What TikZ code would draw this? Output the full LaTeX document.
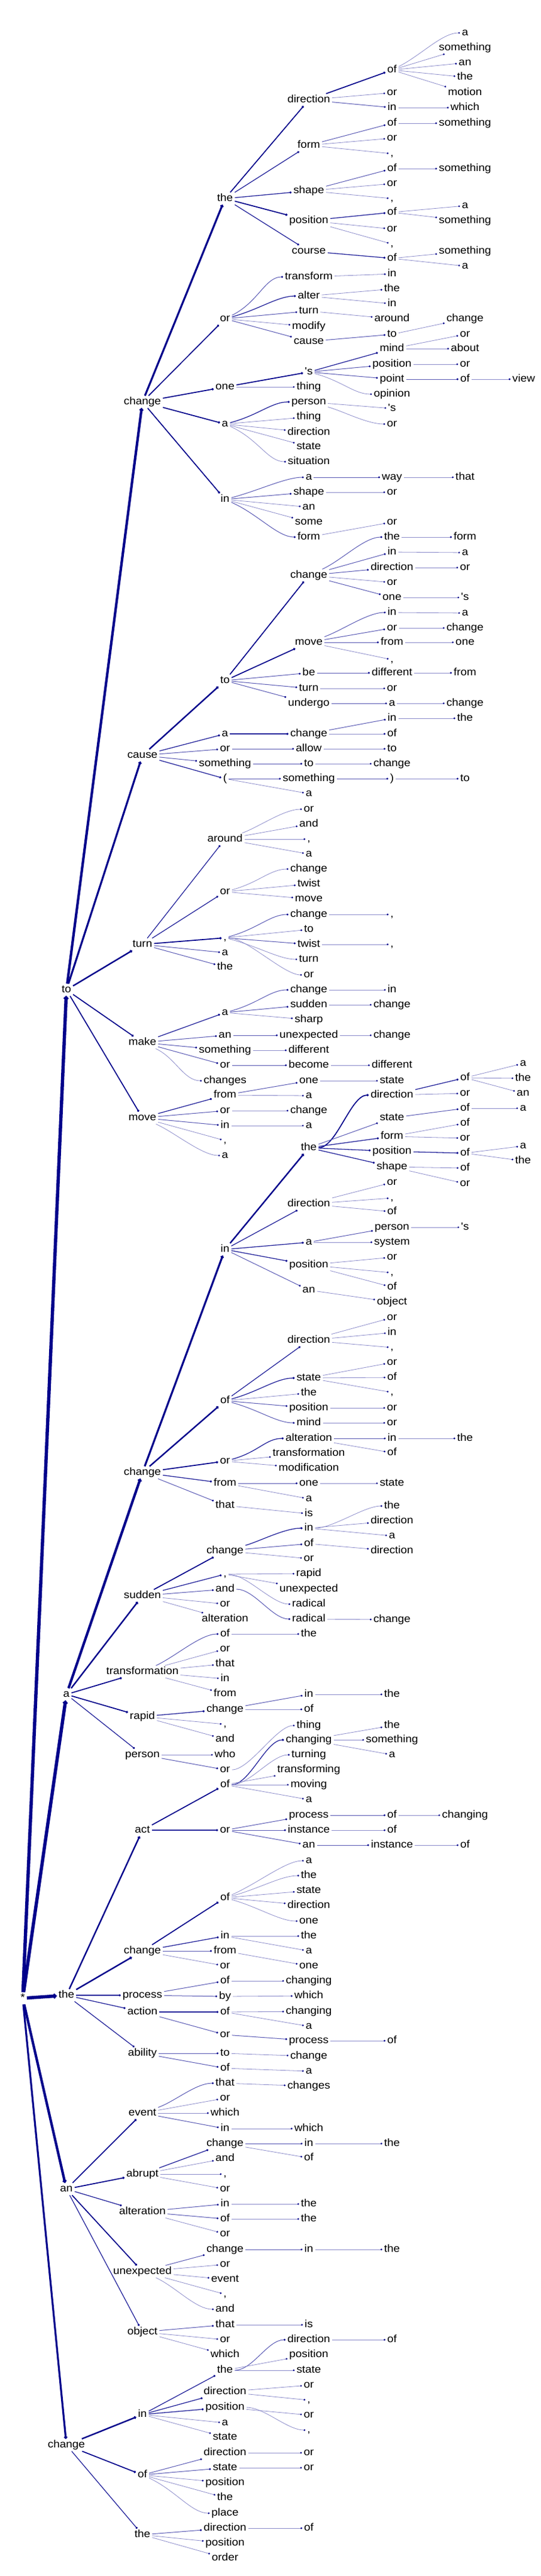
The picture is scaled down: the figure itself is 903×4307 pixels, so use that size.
\documentclass[tikz,border=0pt]{standalone}
\usepackage{fontspec}
\newfontfamily\wf{Liberation Sans}[FakeStretch=1.08]
\usetikzlibrary{arrows.meta,calc}
\definecolor{edgec}{RGB}{0,0,139}
\newcommand\TK[6]{\node[lbl] (#3) at (#4pt,-#5pt) {#6}; \draw[#1] (#2) -- (#3);}
\newcommand\TC[6]{\node[lbl] (#3) at (#4pt,-#5pt) {#6}; \draw[#1] (#2) to[curv] (#3);}
\newcommand\TS[6]{\node[lbl] (#3) at (#4pt,-#5pt) {#6}; \draw[#1] (#2) to[scurv] (#3);}
\tikzset{
 lbl/.style={font=\wf\fontsize{17.5pt}{20pt}\selectfont, text=black, inner xsep=3pt, inner ysep=2pt, text height=12.6pt, text depth=3.7pt},
 tipd/.style={-{Circle[length=2pt 1,color=edgec]}},
 wA/.style={tipd, draw=edgec!45, line width=0.8pt},
 wB/.style={tipd, draw=edgec!65, line width=1pt},
 wC/.style={tipd, draw=edgec!85, line width=1.3pt},
 wD/.style={tipd, draw=edgec, line width=1.7pt},
 wE/.style={tipd, draw=edgec, line width=2.4pt},
 wF/.style={tipd, draw=edgec, line width=3.2pt},
 wG/.style={tipd, draw=edgec, line width=4.2pt},
 wH/.style={tipd, draw=edgec, line width=5.5pt},
 curv/.style={to path={.. controls ($(\tikztostart)!0.4!(\tikztotarget)$) and ($(\tikztotarget.west)+(-30pt,0)$) .. (\tikztotarget.west)}},
 scurv/.style={to path={.. controls ($(\tikztostart.east)+(30pt,0)$) and ($(\tikztotarget.west)+(-30pt,0)$) .. (\tikztotarget.west)}},
}
\begin{document}
\begin{tikzpicture}
\fill[white] (0,0) rectangle (903pt,-4307pt);
\useasboundingbox (0,0) rectangle (903pt,-4307pt);
\node[lbl] (r) at (38pt,-3341pt) {*};
\TK{wH}{r}{T}{111}{1655}{to}
\TK{wH}{r}{A}{111}{2833}{a}
\TK{wH}{r}{H}{111}{3336}{the}
\TK{wG}{r}{N}{111}{3660}{an}
\TK{wF}{r}{G}{111}{4088}{change}
% ---- to / change
\TK{wG}{T}{t1}{238}{672}{change}
\TK{wF}{t1}{t1a}{376}{332}{the}
\TK{wD}{t1a}{t1aa}{516}{167}{direction}
\TK{wD}{t1aa}{t1aaa}{655}{117}{of}
\TC{wA}{t1aaa}{x1}{777}{55}{a}
\TK{wA}{t1aaa}{x2}{777}{80}{something}
\TK{wA}{t1aaa}{x3}{777}{105}{an}
\TK{wA}{t1aaa}{x4}{777}{129}{the}
\TK{wA}{t1aaa}{x5}{777}{155}{motion}
\TK{wA}{t1aa}{x6}{655}{155}{or}
\TK{wB}{t1aa}{x7}{655}{180}{in}
\TK{wA}{x7}{x8}{777}{180}{which}
\TK{wC}{t1a}{t1ab}{516}{243}{form}
\TK{wB}{t1ab}{x9}{655}{206}{of}
\TK{wA}{x9}{x10}{777}{206}{something}
\TK{wA}{t1ab}{x11}{655}{231}{or}
\TK{wA}{t1ab}{x12}{655}{257}{,}
\TK{wC}{t1a}{t1ac}{516}{319}{shape}
\TK{wB}{t1ac}{x13}{655}{282}{of}
\TK{wA}{x13}{x14}{777}{282}{something}
\TK{wA}{t1ac}{x15}{655}{307}{or}
\TK{wA}{t1ac}{x16}{655}{332}{,}
\TK{wD}{t1a}{t1ad}{516}{369}{position}
\TK{wC}{t1ad}{x17}{655}{355}{of}
\TK{wA}{x17}{x18}{777}{344}{a}
\TK{wA}{x17}{x19}{777}{369}{something}
\TK{wA}{t1ad}{x20}{655}{383}{or}
\TK{wA}{t1ad}{x21}{655}{408}{,}
\TK{wC}{t1a}{t1ae}{516}{420}{course}
\TK{wC}{t1ae}{x22}{655}{432}{of}
\TK{wA}{x22}{x23}{777}{420}{something}
\TK{wA}{x22}{x24}{777}{445}{a}
\TK{wD}{t1}{t1b}{376}{533}{or}
\TC{wB}{t1b}{x25}{516}{463}{transform}
\TK{wA}{x25}{x26}{655}{458}{in}
\TC{wC}{t1b}{x27}{516}{495}{alter}
\TK{wA}{x27}{x28}{655}{483}{the}
\TK{wA}{x27}{x29}{655}{508}{in}
\TK{wB}{t1b}{x30}{516}{520}{turn}
\TK{wA}{x30}{x31}{655}{533}{around}
\TK{wA}{t1b}{x32}{516}{546}{modify}
\TK{wB}{t1b}{x33}{516}{571}{cause}
\TK{wB}{x33}{x34}{655}{559}{to}
\TK{wA}{x34}{x35}{777}{533}{change}
\TK{wD}{t1}{t1c}{376}{647}{one}
\TK{wD}{t1c}{x36}{516}{622}{'s}
\TK{wC}{x36}{x37}{655}{583}{mind}
\TK{wA}{x37}{x38}{777}{559}{or}
\TK{wA}{x37}{x39}{777}{583}{about}
\TK{wB}{x36}{x40}{655}{609}{position}
\TK{wA}{x40}{x41}{777}{609}{or}
\TK{wB}{x36}{x42}{655}{634}{point}
\TK{wB}{x42}{x43}{777}{634}{of}
\TK{wA}{x43}{x44}{875}{634}{view}
\TC{wA}{x36}{x45}{655}{659}{opinion}
\TK{wA}{t1c}{x46}{516}{647}{thing}
\TK{wD}{t1}{t1d}{376}{709}{a}
\TC{wC}{t1d}{x47}{516}{672}{person}
\TK{wA}{x47}{x48}{655}{683}{'s}
\TC{wA}{x47}{x49}{655}{709}{or}
\TK{wA}{t1d}{x50}{516}{697}{thing}
\TK{wA}{t1d}{x51}{516}{723}{direction}
\TK{wA}{t1d}{x52}{516}{747}{state}
\TC{wA}{t1d}{x53}{516}{772}{situation}
\TK{wD}{t1}{t1e}{376}{835}{in}
\TC{wB}{t1e}{x54}{516}{798}{a}
\TK{wB}{x54}{x55}{655}{798}{way}
\TK{wA}{x55}{x56}{777}{798}{that}
\TK{wB}{t1e}{x57}{516}{823}{shape}
\TK{wA}{x57}{x58}{655}{823}{or}
\TK{wA}{t1e}{x59}{516}{848}{an}
\TK{wA}{t1e}{x60}{516}{873}{some}
\TC{wB}{t1e}{x61}{516}{898}{form}
\TK{wA}{x61}{x62}{655}{873}{or}
% ---- to / cause
\TK{wF}{T}{t2}{238}{1263}{cause}
\TK{wE}{t2}{t2a}{376}{1138}{to}
\TK{wD}{t2a}{t2aa}{516}{962}{change}
\TC{wB}{t2aa}{x63}{655}{898}{the}
\TK{wA}{x63}{x64}{777}{898}{form}
\TK{wB}{t2aa}{x65}{655}{923}{in}
\TK{wA}{x65}{x66}{777}{924}{a}
\TK{wB}{t2aa}{x67}{655}{949}{direction}
\TK{wA}{x67}{x68}{777}{949}{or}
\TK{wA}{t2aa}{x69}{655}{974}{or}
\TK{wB}{t2aa}{x70}{655}{999}{one}
\TK{wA}{x70}{x71}{777}{999}{'s}
\TK{wD}{t2a}{t2ab}{516}{1074}{move}
\TC{wB}{t2ab}{x72}{655}{1024}{in}
\TK{wA}{x72}{x73}{777}{1025}{a}
\TK{wB}{t2ab}{x74}{655}{1050}{or}
\TK{wA}{x74}{x75}{777}{1050}{change}
\TK{wB}{t2ab}{x76}{655}{1074}{from}
\TK{wA}{x76}{x77}{777}{1074}{one}
\TK{wA}{t2ab}{x78}{655}{1103}{,}
\TK{wB}{t2a}{x79}{516}{1125}{be}
\TK{wB}{x79}{x80}{655}{1125}{different}
\TK{wA}{x80}{x81}{777}{1125}{from}
\TK{wB}{t2a}{x82}{516}{1151}{turn}
\TK{wA}{x82}{x83}{655}{1151}{or}
\TK{wB}{t2a}{x84}{516}{1176}{undergo}
\TK{wB}{x84}{x85}{655}{1176}{a}
\TK{wA}{x85}{x86}{777}{1176}{change}
\TK{wC}{t2}{t2b}{376}{1227}{a}
\TK{wC}{t2b}{x87}{516}{1227}{change}
\TK{wB}{x87}{x88}{655}{1201}{in}
\TK{wA}{x88}{x89}{777}{1201}{the}
\TK{wA}{x87}{x90}{655}{1227}{of}
\TK{wB}{t2}{t2c}{376}{1252}{or}
\TK{wB}{t2c}{x91}{516}{1252}{allow}
\TK{wA}{x91}{x92}{655}{1252}{to}
\TK{wB}{t2}{t2d}{376}{1277}{something}
\TK{wB}{t2d}{x93}{516}{1277}{to}
\TK{wA}{x93}{x94}{655}{1277}{change}
\TK{wC}{t2}{t2e}{376}{1302}{(}
\TK{wB}{t2e}{x95}{516}{1302}{something}
\TK{wB}{x95}{x96}{655}{1302}{)}
\TK{wA}{x96}{x97}{777}{1302}{to}
\TK{wA}{t2e}{x98}{516}{1327}{a}
% ---- to / turn
\TK{wE}{T}{t3}{238}{1579}{turn}
\TK{wC}{t3}{t3a}{376}{1403}{around}
\TC{wA}{t3a}{x99}{516}{1353}{or}
\TK{wA}{t3a}{x100}{516}{1378}{and}
\TK{wA}{t3a}{x101}{516}{1403}{,}
\TK{wA}{t3a}{x102}{516}{1428}{a}
\TK{wC}{t3}{t3b}{376}{1491}{or}
\TC{wA}{t3b}{x103}{516}{1453}{change}
\TK{wA}{t3b}{x104}{516}{1478}{twist}
\TK{wA}{t3b}{x105}{516}{1503}{move}
\TK{wD}{t3}{t3c}{376}{1568}{,}
\TC{wB}{t3c}{x106}{516}{1529}{change}
\TK{wA}{x106}{x107}{655}{1529}{,}
\TK{wA}{t3c}{x108}{516}{1554}{to}
\TK{wB}{t3c}{x109}{516}{1579}{twist}
\TK{wA}{x109}{x110}{655}{1579}{,}
\TC{wA}{t3c}{x111}{516}{1604}{turn}
\TS{wA}{t3c}{x112}{516}{1630}{or}
\TK{wB}{t3}{x113}{376}{1593}{a}
\TK{wB}{t3}{x114}{376}{1617}{the}
% ---- to / make
\TK{wD}{T}{t4}{238}{1743}{make}
\TK{wC}{t4}{t4a}{376}{1693}{a}
\TC{wB}{t4a}{x115}{516}{1655}{change}
\TK{wA}{x115}{x116}{655}{1655}{in}
\TK{wB}{t4a}{x117}{516}{1680}{sudden}
\TK{wA}{x117}{x118}{655}{1680}{change}
\TK{wA}{t4a}{x119}{516}{1705}{sharp}
\TK{wB}{t4}{x120}{376}{1731}{an}
\TK{wB}{x120}{x121}{516}{1731}{unexpected}
\TK{wA}{x121}{x122}{655}{1731}{change}
\TK{wB}{t4}{x123}{376}{1756}{something}
\TK{wA}{x123}{x124}{516}{1756}{different}
\TK{wB}{t4}{x125}{376}{1781}{or}
\TK{wB}{x125}{x126}{516}{1781}{become}
\TK{wA}{x126}{x127}{655}{1781}{different}
\TC{wA}{t4}{x128}{376}{1807}{changes}
% ---- to / move
\TK{wD}{T}{t5}{238}{1869}{move}
\TK{wC}{t5}{x129}{376}{1831}{from}
\TK{wB}{x129}{x130}{516}{1807}{one}
\TK{wA}{x130}{x131}{655}{1807}{state}
\TK{wA}{x129}{x132}{516}{1832}{a}
\TK{wB}{t5}{x133}{376}{1857}{or}
\TK{wA}{x133}{x134}{516}{1857}{change}
\TK{wB}{t5}{x135}{376}{1882}{in}
\TK{wA}{x135}{x136}{516}{1882}{a}
\TK{wA}{t5}{x137}{376}{1907}{,}
\TC{wA}{t5}{x138}{376}{1932}{a}
% ==== a
\TK{wG}{A}{a1}{238}{2462}{change}
\TK{wF}{a1}{a1a}{376}{2089}{in}
\TK{wE}{a1a}{a1aa}{516}{1919}{the}
\TS{wD}{a1aa}{a1aaa}{655}{1831}{direction}
\TK{wC}{a1aaa}{y1}{777}{1802}{of}
\TK{wA}{y1}{y2}{874}{1778}{a}
\TK{wA}{y1}{y3}{874}{1803}{the}
\TK{wA}{y1}{y4}{874}{1828}{an}
\TK{wA}{a1aaa}{y5}{777}{1828}{or}
\TK{wB}{a1aa}{y6}{655}{1869}{state}
\TK{wB}{y6}{y7}{777}{1853}{of}
\TK{wA}{y7}{y8}{874}{1853}{a}
\TK{wC}{a1aa}{y9}{655}{1900}{form}
\TK{wA}{y9}{y10}{777}{1878}{of}
\TK{wA}{y9}{y11}{777}{1903}{or}
\TK{wC}{a1aa}{y12}{655}{1925}{position}
\TK{wC}{y12}{y13}{777}{1928}{of}
\TK{wA}{y13}{y14}{874}{1916}{a}
\TK{wA}{y13}{y15}{874}{1941}{the}
\TK{wC}{a1aa}{y16}{655}{1951}{shape}
\TK{wA}{y16}{y17}{777}{1953}{of}
\TK{wA}{y16}{y18}{777}{1979}{or}
\TK{wC}{a1a}{y19}{516}{2013}{direction}
\TK{wA}{y19}{y20}{655}{1977}{or}
\TK{wA}{y19}{y21}{655}{2003}{,}
\TK{wA}{y19}{y22}{655}{2026}{of}
\TK{wC}{a1a}{y23}{516}{2077}{a}
\TK{wB}{y23}{y24}{655}{2052}{person}
\TK{wA}{y24}{y25}{777}{2052}{'s}
\TK{wA}{y23}{y26}{655}{2077}{system}
\TK{wC}{a1a}{y27}{516}{2115}{position}
\TK{wA}{y27}{y28}{655}{2102}{or}
\TK{wA}{y27}{y29}{655}{2128}{,}
\TK{wA}{y27}{y30}{655}{2152}{of}
\TK{wB}{a1a}{y31}{516}{2157}{an}
\TK{wA}{y31}{y32}{655}{2177}{object}
\TK{wE}{a1}{a1b}{376}{2342}{of}
\TK{wC}{a1b}{y33}{516}{2241}{direction}
\TK{wA}{y33}{y34}{655}{2203}{or}
\TK{wA}{y33}{y35}{655}{2228}{in}
\TK{wA}{y33}{y36}{655}{2253}{,}
\TC{wC}{a1b}{y37}{516}{2304}{state}
\TK{wA}{y37}{y38}{655}{2278}{or}
\TK{wA}{y37}{y39}{655}{2303}{of}
\TK{wA}{y37}{y40}{655}{2328}{,}
\TK{wA}{a1b}{y41}{516}{2329}{the}
\TK{wB}{a1b}{y42}{516}{2354}{position}
\TK{wA}{y42}{y43}{655}{2354}{or}
\TC{wB}{a1b}{y44}{516}{2379}{mind}
\TK{wA}{y44}{y45}{655}{2379}{or}
\TK{wD}{a1}{a1c}{376}{2443}{or}
\TC{wC}{a1c}{y46}{516}{2405}{alteration}
\TK{wB}{y46}{y47}{655}{2405}{in}
\TK{wA}{y47}{y48}{777}{2405}{the}
\TK{wA}{y46}{y49}{655}{2429}{of}
\TK{wA}{a1c}{y50}{516}{2430}{transformation}
\TK{wA}{a1c}{y51}{516}{2455}{modification}
\TK{wC}{a1}{a1d}{376}{2480}{from}
\TK{wB}{a1d}{y52}{516}{2480}{one}
\TK{wA}{y52}{y53}{655}{2480}{state}
\TK{wA}{a1d}{y54}{516}{2506}{a}
\TK{wB}{a1}{a1e}{376}{2517}{that}
\TK{wA}{a1e}{y55}{516}{2531}{is}
\TK{wE}{A}{a2}{238}{2668}{sudden}
\TK{wD}{a2}{a2a}{376}{2593}{change}
\TC{wC}{a2a}{y56}{516}{2555}{in}
\TS{wA}{y56}{y57}{655}{2518}{the}
\TK{wA}{y56}{y58}{655}{2543}{direction}
\TK{wA}{y56}{y59}{655}{2568}{a}
\TK{wB}{a2a}{y60}{516}{2581}{of}
\TK{wA}{y60}{y61}{655}{2593}{direction}
\TK{wA}{a2a}{y62}{516}{2606}{or}
\TK{wC}{a2}{a2b}{376}{2632}{,}
\TK{wA}{a2b}{y63}{516}{2631}{rapid}
\TK{wA}{a2b}{y64}{516}{2657}{unexpected}
\TS{wA}{a2b}{y65}{516}{2682}{radical}
\TK{wB}{a2}{a2c}{376}{2657}{and}
\TS{wB}{a2c}{y66}{516}{2707}{radical}
\TK{wA}{y66}{y67}{655}{2708}{change}
\TK{wA}{a2}{y68}{376}{2682}{or}
\TK{wA}{a2}{y69}{376}{2707}{alteration}
\TK{wD}{A}{a3}{238}{2795}{transformation}
\TC{wB}{a3}{y70}{376}{2732}{of}
\TK{wA}{y70}{y71}{516}{2732}{the}
\TK{wA}{a3}{y72}{376}{2757}{or}
\TK{wA}{a3}{y73}{376}{2782}{that}
\TK{wA}{a3}{y74}{376}{2807}{in}
\TK{wA}{a3}{y75}{376}{2832}{from}
\TK{wD}{A}{a4}{238}{2870}{rapid}
\TK{wC}{a4}{y76}{376}{2858}{change}
\TK{wB}{y76}{y77}{516}{2833}{in}
\TK{wA}{y77}{y78}{655}{2833}{the}
\TK{wA}{y76}{y79}{516}{2858}{of}
\TK{wA}{a4}{y80}{376}{2883}{,}
\TK{wA}{a4}{y81}{376}{2908}{and}
\TK{wC}{A}{a5}{238}{2934}{person}
\TK{wA}{a5}{y82}{376}{2934}{who}
\TK{wB}{a5}{y83}{376}{2959}{or}
\TS{wA}{y83}{y84}{516}{2885}{thing}
% ==== the
\TK{wE}{H}{h1}{238}{3060}{act}
\TK{wD}{h1}{h1a}{376}{2984}{of}
\TS{wC}{h1a}{z1}{516}{2909}{changing}
\TK{wA}{z1}{z2}{655}{2885}{the}
\TK{wA}{z1}{z3}{655}{2909}{something}
\TK{wA}{z1}{z4}{655}{2934}{a}
\TS{wA}{h1a}{z5}{516}{2934}{turning}
\TK{wA}{h1a}{z6}{516}{2959}{transforming}
\TK{wA}{h1a}{z7}{516}{2984}{moving}
\TK{wA}{h1a}{z8}{516}{3009}{a}
\TK{wC}{h1}{h1b}{376}{3060}{or}
\TK{wB}{h1b}{z9}{516}{3035}{process}
\TK{wB}{z9}{z10}{655}{3035}{of}
\TK{wA}{z10}{z11}{777}{3035}{changing}
\TK{wB}{h1b}{z12}{516}{3060}{instance}
\TK{wA}{z12}{z13}{655}{3060}{of}
\TK{wB}{h1b}{z14}{516}{3085}{an}
\TK{wB}{z14}{z15}{655}{3085}{instance}
\TK{wA}{z15}{z16}{777}{3085}{of}
\TK{wE}{H}{h2}{238}{3262}{change}
\TK{wD}{h2}{h2a}{376}{3173}{of}
\TC{wA}{h2a}{z17}{516}{3111}{a}
\TC{wA}{h2a}{z18}{516}{3136}{the}
\TK{wA}{h2a}{z19}{516}{3161}{state}
\TK{wA}{h2a}{z20}{516}{3186}{direction}
\TC{wA}{h2a}{z21}{516}{3212}{one}
\TK{wC}{h2}{h2b}{376}{3237}{in}
\TK{wA}{h2b}{z22}{516}{3237}{the}
\TK{wA}{h2b}{z23}{516}{3262}{a}
\TK{wB}{h2}{h2c}{376}{3262}{from}
\TK{wA}{h2c}{z24}{516}{3287}{one}
\TK{wA}{h2}{z25}{376}{3287}{or}
\TK{wC}{H}{h3}{238}{3336}{process}
\TK{wB}{h3}{z26}{376}{3312}{of}
\TK{wA}{z26}{z27}{516}{3312}{changing}
\TK{wB}{h3}{z28}{376}{3338}{by}
\TK{wA}{z28}{z29}{516}{3337}{which}
\TK{wC}{H}{h4}{238}{3364}{action}
\TK{wC}{h4}{z30}{376}{3364}{of}
\TK{wA}{z30}{z31}{516}{3363}{changing}
\TK{wA}{z30}{z32}{516}{3388}{a}
\TK{wB}{h4}{z33}{376}{3402}{or}
\TK{wB}{z33}{z34}{516}{3412}{process}
\TK{wA}{z34}{z35}{655}{3412}{of}
\TK{wC}{H}{h5}{238}{3433}{ability}
\TK{wB}{h5}{z36}{376}{3433}{to}
\TK{wA}{z36}{z37}{516}{3438}{change}
\TK{wB}{h5}{z38}{376}{3458}{of}
\TK{wA}{z38}{z39}{516}{3463}{a}
% ==== an
\TK{wD}{N}{n1}{238}{3533}{event}
\TC{wB}{n1}{w1}{376}{3483}{that}
\TK{wA}{w1}{w2}{516}{3488}{changes}
\TK{wA}{n1}{w3}{376}{3508}{or}
\TK{wA}{n1}{w4}{376}{3533}{which}
\TK{wB}{n1}{w5}{376}{3559}{in}
\TK{wA}{w5}{w6}{516}{3559}{which}
\TK{wD}{N}{n2}{238}{3635}{abrupt}
\TK{wC}{n2}{w7}{376}{3584}{change}
\TK{wB}{w7}{w8}{516}{3584}{in}
\TK{wA}{w8}{w9}{655}{3584}{the}
\TK{wA}{w7}{w10}{516}{3608}{of}
\TK{wA}{n2}{w11}{376}{3609}{and}
\TK{wA}{n2}{w12}{376}{3635}{,}
\TK{wA}{n2}{w13}{376}{3660}{or}
\TK{wC}{N}{n3}{238}{3698}{alteration}
\TK{wB}{n3}{w14}{376}{3685}{in}
\TK{wA}{w14}{w15}{516}{3685}{the}
\TK{wB}{n3}{w16}{376}{3710}{of}
\TK{wA}{w16}{w17}{516}{3710}{the}
\TK{wA}{n3}{w18}{376}{3735}{or}
\TK{wD}{N}{n4}{238}{3798}{unexpected}
\TK{wB}{n4}{w19}{376}{3761}{change}
\TK{wB}{w19}{w20}{516}{3761}{in}
\TK{wA}{w20}{w21}{655}{3761}{the}
\TK{wA}{n4}{w22}{376}{3786}{or}
\TK{wA}{n4}{w23}{376}{3811}{event}
\TK{wA}{n4}{w24}{376}{3836}{,}
\TC{wA}{n4}{w25}{376}{3861}{and}
\TK{wC}{N}{n5}{238}{3899}{object}
\TK{wB}{n5}{w26}{376}{3887}{that}
\TK{wA}{w26}{w27}{516}{3887}{is}
\TK{wA}{n5}{w28}{376}{3912}{or}
\TK{wA}{n5}{w29}{376}{3937}{which}
% ==== change
\TK{wE}{G}{g1}{238}{4037}{in}
\TK{wC}{g1}{g1a}{376}{3963}{the}
\TS{wB}{g1a}{v1}{516}{3912}{direction}
\TK{wA}{v1}{v2}{655}{3912}{of}
\TK{wA}{g1a}{v3}{516}{3937}{position}
\TK{wA}{g1a}{v4}{516}{3963}{state}
\TK{wC}{g1}{v5}{376}{3999}{direction}
\TK{wA}{v5}{v6}{516}{3988}{or}
\TK{wA}{v5}{v7}{516}{4013}{,}
\TK{wC}{g1}{v8}{376}{4025}{position}
\TK{wA}{v8}{v9}{516}{4038}{or}
\TS{wA}{v8}{v10}{516}{4063}{,}
\TK{wA}{g1}{v11}{376}{4051}{a}
\TK{wA}{g1}{v12}{376}{4075}{state}
\TK{wD}{G}{g2}{238}{4138}{of}
\TK{wB}{g2}{v13}{376}{4101}{direction}
\TK{wA}{v13}{v14}{516}{4101}{or}
\TK{wB}{g2}{v15}{376}{4126}{state}
\TK{wA}{v15}{v16}{516}{4126}{or}
\TK{wA}{g2}{v17}{376}{4151}{position}
\TK{wA}{g2}{v18}{376}{4176}{the}
\TC{wA}{g2}{v19}{376}{4202}{place}
\TK{wC}{G}{g3}{238}{4238}{the}
\TK{wB}{g3}{v20}{376}{4227}{direction}
\TK{wA}{v20}{v21}{516}{4227}{of}
\TK{wA}{g3}{v22}{376}{4252}{position}
\TK{wA}{g3}{v23}{376}{4277}{order}
\end{tikzpicture}
\end{document}
